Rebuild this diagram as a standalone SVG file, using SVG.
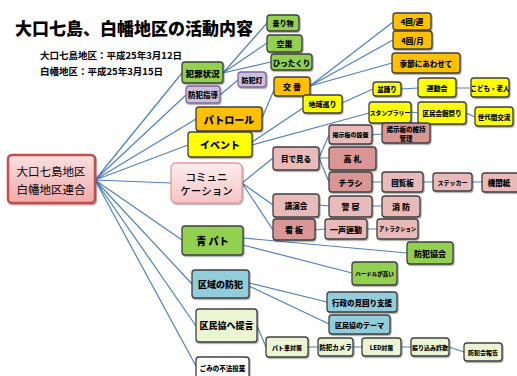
<svg xmlns="http://www.w3.org/2000/svg" width="517" height="376" viewBox="0 0 517 376">
<defs>
<filter id="sh" x="-10%" y="-10%" width="130%" height="140%"><feDropShadow dx="1" dy="1.2" stdDeviation="0.7" flood-color="#000" flood-opacity="0.35"/></filter>
<linearGradient id="gRoot" x1="0" y1="0" x2="0" y2="1"><stop offset="0" stop-color="#fbe0e0"/><stop offset="1" stop-color="#f2a9a9"/></linearGradient>
<linearGradient id="gComm" x1="0" y1="0" x2="0" y2="1"><stop offset="0" stop-color="#fdeeee"/><stop offset="1" stop-color="#f7c4c4"/></linearGradient>
<style>
rect{stroke:#3f3f3f;stroke-width:1.3;filter:url(#sh)}
.g{fill:#92d050}.o{fill:#ffc000}.y{fill:#ffff00}.p{fill:#ccc0da;stroke:#8064a2}
.pl{fill:#e8baba}.pd{fill:#d99694}.b{fill:#92cddc}.lg{fill:#ebf5d3}.w{fill:#ffffff}
text{font-family:"Noto Sans CJK JP","Liberation Sans",sans-serif;font-weight:900;fill:#000;text-anchor:middle;dominant-baseline:central}
.c path{fill:none;stroke:#4f81bd;stroke-width:1.2}
</style>
</defs>
<rect width="517" height="376" fill="#ffffff" style="stroke:none;filter:none"/>
<g id="title">
<text x="15" y="27" style="text-anchor:start;font-size:17px">大口七島、白幡地区の活動内容</text>
<text x="40" y="55" style="text-anchor:start;font-size:9.5px;font-weight:600">大口七島地区：平成25年3月12日</text>
<text x="40" y="71" style="text-anchor:start;font-size:9.5px;font-weight:600">白幡地区：平成25年3月15日</text>
</g>
<g class="c" id="connectors">
<path d="M95 180L182 73M95 180L186 95M95 180L196 119M95 180L188 145M95 180L171 183M95 180L182 240M95 180L192 284M95 180L196 326M95 180L196 366"/>
<path d="M223 73L267 23M223 73L267 43M223 73L271 62M220 95L238 80"/>
<path d="M262 118L274 90M310 86L393 22M310 86L393 40M310 86L392 63"/>
<path d="M252 142L303 108M342 103L373 89M401 89L418 88M456 88L471 88M252 145L369 113M411 112L418 113M466 113L475 117"/>
<path d="M242 183L273 158M242 183L273 205M242 183L273 230M319 158L329 135M319 158L329 158M319 158L329 182M372 135L382 134M372 182L382 182M423 182L433 182M472 182L482 182M319 205L329 206M372 206L382 206M315 230L325 229M367 229L377 229"/>
<path d="M243 238L407 253M243 245L352 273M249 283L327 302M249 286L329 324M257 326L266 347M308 347L318 347M353 347L362 347M401 347L411 347M449 347L464 352"/>
</g>
<g id="root"><rect x="8" y="155" width="87" height="48" rx="4" fill="url(#gRoot)" style="stroke:#c0504d;stroke-width:2.5"/><text x="51" y="171" style="font-size:11.5px;font-weight:normal">大口七島地区</text><text x="51" y="189" style="font-size:11.5px;font-weight:normal">白幡地区連合</text></g>
<g id="hanzai"><rect class="g" x="182" y="62" width="41" height="21" rx="3"/><text x="202.5" y="72.5" style="font-size:8.5px">犯罪状況</text></g>
<g id="shido"><rect class="p" x="186" y="86" width="34" height="17" rx="3"/><text x="203" y="94.5" style="font-size:7.5px">防犯指導</text></g>
<g id="bouhantou"><rect class="p" x="238" y="72" width="28" height="15" rx="3"/><text x="252" y="79.5" style="font-size:7px">防犯灯</text></g>
<g id="patrol"><rect class="o" x="196" y="107" width="66" height="24" rx="3"/><text x="229" y="119" style="font-size:10px">パトロール</text></g>
<g id="event"><rect class="y" x="188" y="132" width="64" height="25" rx="3"/><text x="220" y="144.5" style="font-size:10px">イベント</text></g>
<g id="comm"><rect x="171" y="163" width="71" height="40" rx="5" fill="url(#gComm)" style="stroke:#e29c9c;stroke-width:1.3"/><text x="206.5" y="176" style="font-size:10.5px;font-weight:500">コミュニ</text><text x="206.5" y="190" style="font-size:10.5px;font-weight:500">ケーション</text></g>
<g id="aopato"><rect class="g" x="182" y="226" width="61" height="29" rx="3"/><text x="212.5" y="240.5" style="font-size:10px">青 パト</text></g>
<g id="kuiki"><rect class="b" x="192" y="270" width="57" height="28" rx="3"/><text x="220.5" y="284" style="font-size:9px">区域の防犯</text></g>
<g id="teigen"><rect class="lg" x="196" y="309" width="61" height="33" rx="3"/><text x="226.5" y="325.5" style="font-size:9px">区民協へ提言</text></g>
<g id="gomi"><rect class="w" x="196" y="357" width="53" height="24" rx="3"/><text x="222.5" y="368" style="font-size:6.5px">ごみの不法投棄</text></g>
<g id="norimono"><rect class="g" x="267" y="15" width="32" height="16" rx="3"/><text x="283" y="23" style="font-size:7px">乗り物</text></g>
<g id="akisu"><rect class="g" x="267" y="35" width="35" height="17" rx="3"/><text x="284.5" y="43.5" style="font-size:8px">空巣</text></g>
<g id="hittakuri"><rect class="g" x="271" y="54" width="41" height="16" rx="3"/><text x="291.5" y="62" style="font-size:7.5px">ひったくり</text></g>
<g id="kouban"><rect class="o" x="274" y="77" width="36" height="19" rx="3"/><text x="292" y="86.5" style="font-size:8px">交 番</text></g>
<g id="shu"><rect class="o" x="393" y="13" width="38" height="17" rx="3"/><text x="412" y="21.5" style="font-size:7.5px">4回/週</text></g>
<g id="tsuki"><rect class="o" x="393" y="31" width="39" height="18" rx="3"/><text x="412.5" y="40" style="font-size:7.5px">4回/月</text></g>
<g id="kisetsu"><rect class="o" x="392" y="53" width="68" height="20" rx="3"/><text x="426" y="63" style="font-size:7.5px">季節にあわせて</text></g>
<g id="chiiki"><rect class="y" x="303" y="95" width="39" height="18" rx="3"/><text x="322.5" y="104" style="font-size:7px">地域巡り</text></g>
<g id="bon"><rect class="y" x="373" y="82" width="28" height="14" rx="3"/><text x="387" y="89" style="font-size:6.5px">盆踊り</text></g>
<g id="undoukai"><rect class="y" x="418" y="78" width="38" height="19" rx="3"/><text x="437" y="87.5" style="font-size:7px">運動会</text></g>
<g id="kodomo"><rect class="y" x="471" y="78" width="38" height="19" rx="3"/><text x="490" y="87.5" style="font-size:6.5px">こども・老人</text></g>
<g id="stamp"><rect class="y" x="369" y="102" width="42" height="21" rx="3"/><text x="390" y="112.5" style="font-size:5.8px">スタンプラリー</text></g>
<g id="kaikan"><rect class="y" x="418" y="102" width="48" height="22" rx="3"/><text x="442" y="113" style="font-size:6.5px">区民会館祭り</text></g>
<g id="sedai"><rect class="y" x="475" y="107" width="38" height="19" rx="3"/><text x="494" y="116.5" style="font-size:6.5px">世代間交流</text></g>
<g id="medemiru"><rect class="pl" x="273" y="147" width="46" height="23" rx="3"/><text x="296" y="158.5" style="font-size:7.5px">目で見る</text></g>
<g id="kouenkai"><rect class="pl" x="273" y="194" width="46" height="23" rx="3"/><text x="296" y="205.5" style="font-size:7.5px">講演会</text></g>
<g id="kanban"><rect class="pd" x="273" y="219" width="42" height="21" rx="3"/><text x="294" y="229.5" style="font-size:8px">看 板</text></g>
<g id="keiji"><rect class="pl" x="329" y="125" width="43" height="19" rx="3"/><text x="350.5" y="134.5" style="font-size:6px">掲示板の設置</text></g>
<g id="keiji2"><rect class="pd" x="382" y="123" width="48" height="20" rx="3"/><text x="406" y="128.5" style="font-size:6.5px">掲示板の維持</text><text x="406" y="137.5" style="font-size:6.5px">管理</text></g>
<g id="kousatsu"><rect class="pd" x="329" y="147" width="47" height="23" rx="3"/><text x="352.5" y="158.5" style="font-size:8px">高 札</text></g>
<g id="chirashi"><rect class="pd" x="329" y="172" width="43" height="20" rx="3"/><text x="350.5" y="182" style="font-size:8px">チラシ</text></g>
<g id="kairan"><rect class="pl" x="382" y="172" width="41" height="20" rx="3"/><text x="402.5" y="182" style="font-size:7.5px">回覧板</text></g>
<g id="sticker"><rect class="pl" x="433" y="173" width="39" height="18" rx="3"/><text x="452.5" y="182" style="font-size:6px">ステッカー</text></g>
<g id="kikanshi"><rect class="pl" x="482" y="173" width="37" height="19" rx="3"/><text x="499" y="182.5" style="font-size:7.5px">機関紙</text></g>
<g id="keisatsu"><rect class="pl" x="329" y="196" width="43" height="21" rx="3"/><text x="350.5" y="206.5" style="font-size:8px">警 察</text></g>
<g id="shoubou"><rect class="pl" x="382" y="196" width="38" height="21" rx="3"/><text x="401" y="206.5" style="font-size:8px">消 防</text></g>
<g id="hitokoe"><rect class="pl" x="325" y="219" width="42" height="20" rx="3"/><text x="346" y="229" style="font-size:8px">一声運動</text></g>
<g id="attraction"><rect class="pl" x="377" y="219" width="41" height="20" rx="3"/><text x="397.5" y="229" style="font-size:5.3px">アトラクション</text></g>
<g id="kyoukai"><rect class="g" x="407" y="242" width="46" height="22" rx="3"/><text x="430" y="253" style="font-size:8px">防犯協会</text></g>
<g id="hurdle"><rect class="g" x="352" y="262" width="45" height="23" rx="3"/><text x="374.5" y="273.5" style="font-size:5.5px">ハードルが高い</text></g>
<g id="gyousei"><rect class="b" x="327" y="292" width="70" height="20" rx="3"/><text x="362" y="302" style="font-size:7.5px">行政の見回り支援</text></g>
<g id="theme"><rect class="b" x="329" y="315" width="61" height="19" rx="3"/><text x="359.5" y="324.5" style="font-size:7px">区民協のテーマ</text></g>
<g id="patosha"><rect class="lg" x="266" y="337" width="42" height="20" rx="3"/><text x="287" y="347" style="font-size:6px">パト車対策</text></g>
<g id="camera"><rect class="lg" x="318" y="338" width="35" height="18" rx="3"/><text x="335.5" y="347" style="font-size:6.5px">防犯カメラ</text></g>
<g id="led"><rect class="lg" x="362" y="338" width="39" height="18" rx="3"/><text x="381.5" y="347" style="font-size:6px">LED対策</text></g>
<g id="furikomi"><rect class="lg" x="411" y="338" width="38" height="18" rx="3"/><text x="430" y="347" style="font-size:6px">振り込み詐欺</text></g>
<g id="kaihou"><rect class="lg" x="464" y="343" width="38" height="18" rx="3"/><text x="483" y="352" style="font-size:6px">防犯会報告</text></g>
</svg>
